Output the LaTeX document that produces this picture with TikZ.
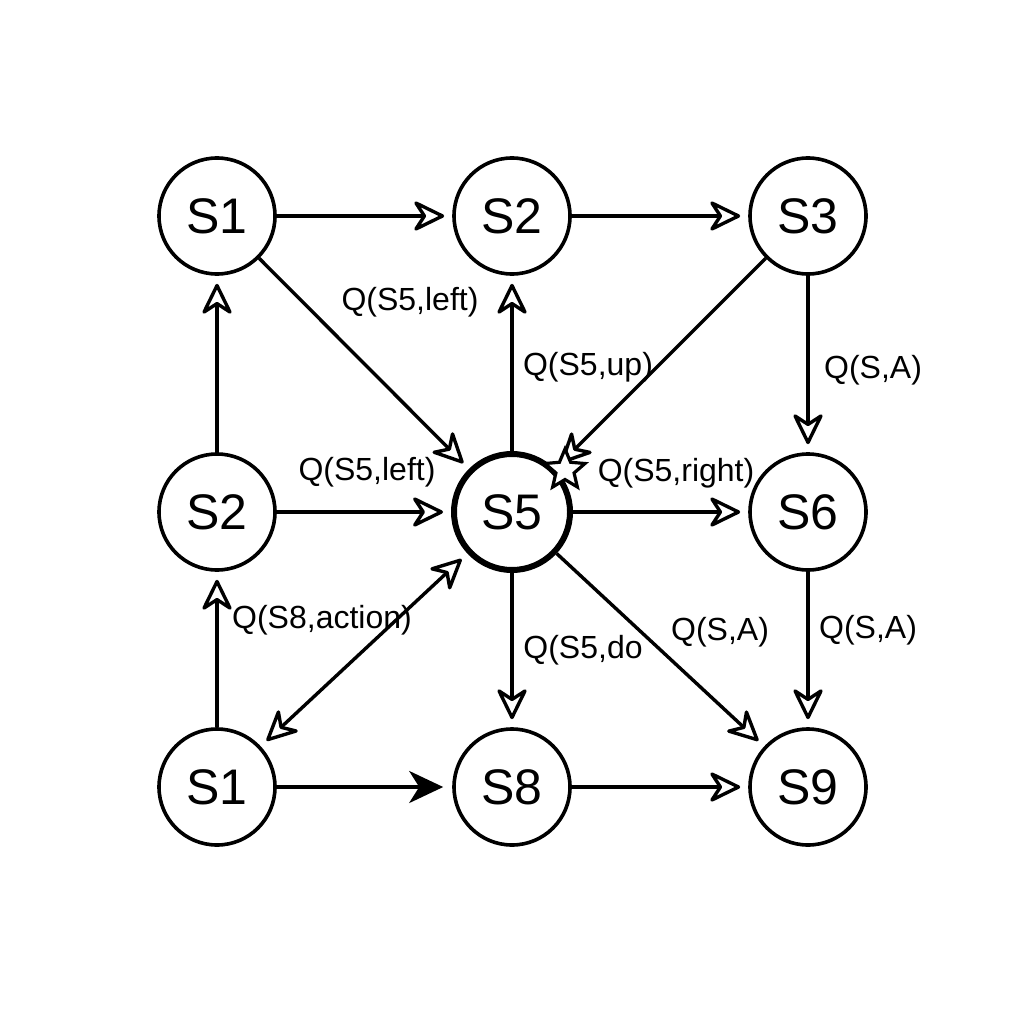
\documentclass[tikz,border=0pt]{standalone}
\usepackage{fontspec}
\setmainfont{Liberation Sans}
\usetikzlibrary{arrows.meta,shapes.geometric}
\begin{document}
\begin{tikzpicture}[x=1pt,y=-1pt,
  state/.style={circle,draw,line width=3.6pt,minimum size=116pt,inner sep=0pt,font=\fontsize{50}{50}\selectfont},
  lbl/.style={font=\fontsize{32}{32}\selectfont,inner sep=1pt},
  tipo/.tip={Stealth[open,length=35pt,width=34pt,inset=11pt,round]},
  oarr/.style={line width=3.4pt,-tipo,shorten >=8pt},
  farr/.style={line width=3.4pt,-{Stealth[length=34pt,width=32pt,inset=10pt]},shorten >=9pt},
  darr/.style={line width=3.4pt,tipo-tipo,shorten >=8pt,shorten <=8pt}
]
\useasboundingbox (0,0) rectangle (1024,1024);
\fill[white] (0,0) rectangle (1024,1024);
\node[state] (a1) at (217,216) {S1};
\node[state] (a2) at (512,216) {S2};
\node[state] (a3) at (808,216) {S3};
\node[state] (b2) at (217,512) {S2};
\node[state,line width=6pt] (b5) at (512,512) {S5};
\node[state] (b6) at (808,512) {S6};
\node[state] (c1) at (217,787) {S1};
\node[state] (c8) at (512,787) {S8};
\node[state] (c9) at (808,787) {S9};

\draw[oarr] (a1) -- (a2);
\draw[oarr] (a2) -- (a3);
\draw[oarr] (a1) -- (b5);
\draw[oarr] (a3) -- (b5);
\draw[oarr] (a3) -- (b6);
\draw[oarr] (b5) -- (a2);
\draw[oarr] (b2) -- (a1);
\draw[oarr] (b2) -- (b5);
\draw[oarr] (b5) -- (b6);
\draw[oarr] (c1) -- (b2);
\draw[darr] (c1) -- (b5);
\draw[oarr] (b5) -- (c8);
\draw[oarr] (b5) -- (c9);
\draw[oarr] (b6) -- (c9);
\draw[farr] (c1) -- (c8);
\draw[oarr] (c8) -- (c9);

\node[star,star points=5,star point ratio=2.2,draw,fill=white,line width=3.2pt,minimum size=42pt,inner sep=0pt] (st) at (565,470) {};

\node[lbl] (l1) at (410,302) {Q(S5,left)};
\node[lbl] (l2) at (588,367) {Q(S5,up)};
\node[lbl] (l3) at (873,370) {Q(S,A)};
\node[lbl] (l4) at (367,472) {Q(S5,left)};
\node[lbl] (l5) at (676,473) {Q(S5,right)};
\node[lbl] (l6) at (322,620) {Q(S8,action)};
\node[lbl] (l7) at (583,650) {Q(S5,do};
\node[lbl] (l8) at (720,632) {Q(S,A)};
\node[lbl] (l9) at (868,630) {Q(S,A)};
\end{tikzpicture}
\end{document}
